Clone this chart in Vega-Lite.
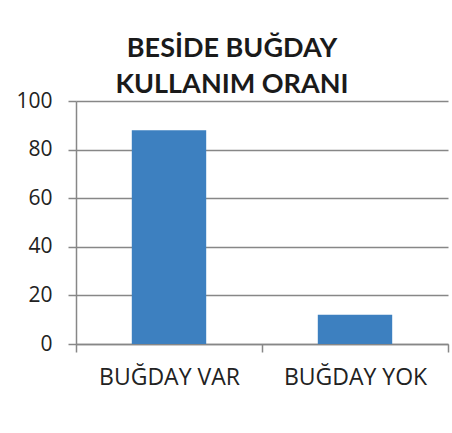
{
  "$schema": "https://vega.github.io/schema/vega-lite/v6.json",
  "width": 372,
  "height": 243,
  "autosize": {"type": "none"},
  "padding": {"left": 76, "top": 101, "right": 4, "bottom": 89},
  "background": "white",
  "title": {
    "text": ["BESİDE BUĞDAY", "KULLANIM ORANI"],
    "font": "Lato",
    "fontSize": 27,
    "fontWeight": "bold",
    "color": "#1a1a1a",
    "anchor": "middle",
    "dx": -30,
    "lineHeight": 36,
    "offset": -9
  },
  "data": {
    "values": [
      {"kategori": "BUĞDAY VAR", "oran": 88},
      {"kategori": "BUĞDAY YOK", "oran": 12}
    ]
  },
  "mark": {"type": "bar", "color": "#3d80c0", "width": {"band": 0.4}},
  "encoding": {
    "x": {
      "field": "kategori",
      "type": "nominal",
      "sort": null,
      "title": null,
      "scale": {"paddingInner": 0, "paddingOuter": 0},
      "axis": {
        "labelAngle": 0,
        "tickBand": "extent",
        "tickSize": 8,
        "tickColor": "#878787",
        "domainColor": "#878787",
        "domainWidth": 1.5,
        "tickWidth": 1.5,
        "labelFont": "Open Sans",
        "labelFontSize": 23,
        "labelColor": "#222222",
        "labelPadding": 14
      }
    },
    "y": {
      "field": "oran",
      "type": "quantitative",
      "title": null,
      "scale": {"domain": [0, 100]},
      "axis": {
        "values": [0, 20, 40, 60, 80, 100],
        "grid": true,
        "gridColor": "#878787",
        "gridWidth": 1.5,
        "tickSize": 8,
        "tickColor": "#878787",
        "tickWidth": 1.5,
        "domainColor": "#878787",
        "domainWidth": 1.5,
        "labelFont": "Open Sans",
        "labelFontSize": 21,
        "labelColor": "#222222",
        "labelPadding": 16
      }
    }
  },
  "config": {"view": {"stroke": null}}
}
